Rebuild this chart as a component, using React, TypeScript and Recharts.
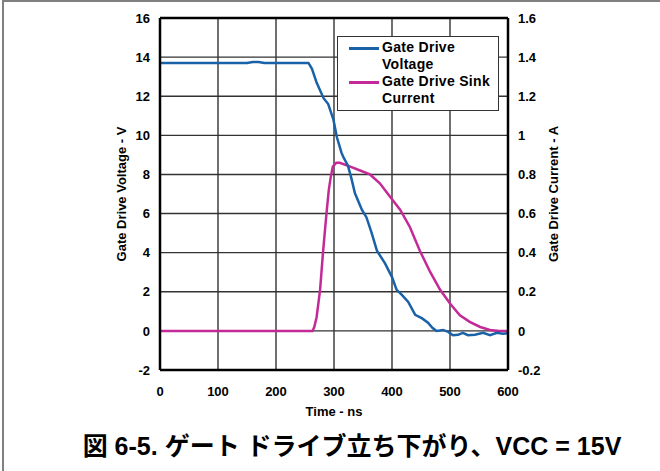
import {
  LineChart, Line, XAxis, YAxis, CartesianGrid,
  Legend, ReferenceLine, Label,
} from 'recharts';

// Gate drive voltage trace (ns, V)
const voltageTime = [
  0, 150, 160, 170, 180, 256, 262, 270, 282, 290, 299, 305, 313, 316, 324, 330, 336,
  348, 356, 365, 374, 388, 400, 408, 417, 428, 440, 452, 462, 470, 477, 488, 497,
  505, 514, 522, 531, 543, 557, 569, 581, 591, 600,
];
const voltageValue = [
  13.7, 13.7, 13.75, 13.75, 13.7, 13.7, 13.4, 12.7, 11.9, 11.6, 10.8, 9.9, 9.1, 8.9, 8.45, 7.8, 7.05,
  6.2, 5.8, 5.0, 4.1, 3.45, 2.75, 2.1, 1.84, 1.48, 0.82, 0.64, 0.42, 0.15, 0.0, 0.05, -0.05,
  -0.22, -0.2, -0.1, -0.22, -0.2, -0.1, -0.22, -0.1, -0.15, -0.12,
];

// Gate drive sink current trace (ns, A)
const currentTime = [
  0, 263, 266, 270, 276, 281, 287, 291, 294, 298, 304, 310, 328, 345, 362, 379,
  397, 414, 431, 448, 466, 483, 500, 517, 534, 552, 569, 585, 600,
];
const currentValue = [
  0, 0, 0.02, 0.07, 0.21, 0.4, 0.6, 0.72, 0.78, 0.84, 0.86, 0.86, 0.84, 0.82, 0.8, 0.755,
  0.685, 0.62, 0.53, 0.41, 0.3, 0.21, 0.14, 0.08, 0.046, 0.02, 0.005, 0, 0,
];

const timeTicks = [0, 100, 200, 300, 400, 500, 600];
const voltageTicks = [-2, 0, 2, 4, 6, 8, 10, 12, 14, 16];
const currentTicks = [-0.2, 0, 0.2, 0.4, 0.6, 0.8, 1, 1.2, 1.4, 1.6];

const legendItems = [
  { key: 'v', lines: ['Gate Drive', 'Voltage'], color: '#1a62a8' },
  { key: 'i', lines: ['Gate Drive Sink', 'Current'], color: '#c42a97' },
];

const FONT = '"Liberation Sans", Arial, Helvetica, sans-serif';
const BLUE = '#1a62a8';
const MAGENTA = '#c42a97';

const voltageData = voltageTime.map((t, i) => ({ t, v: voltageValue[i] }));
const currentData = currentTime.map((t, i) => ({ t, a: currentValue[i] }));

const tickStyle = { fill: '#000', fontSize: 13, fontWeight: 700, fontFamily: FONT };

function LegendBox() {
  return (
    <div
      style={{
        width: 160, height: 73, background: '#fff', border: '1px solid #333',
        fontFamily: FONT, fontWeight: 700, fontSize: 14, letterSpacing: 0.3,
        color: '#000', position: 'relative',
      }}
    >
      {legendItems.map((item, i) => (
        <div key={item.key} style={{ position: 'absolute', left: 0, top: 2 + i * 34 }}>
          <span
            style={{
              position: 'absolute', left: 11, top: 8, width: 30, height: 2.5,
              background: item.color,
            }}
          />
          <div style={{ position: 'absolute', left: 44, top: 0, lineHeight: '17px', whiteSpace: 'nowrap' }}>
            {item.lines[0]}<br />{item.lines[1]}
          </div>
        </div>
      ))}
    </div>
  );
}

function VerticalTitle({ viewBox, text, dx }: { viewBox?: any; text: string; dx: number }) {
  const x = (viewBox?.x ?? 0) + dx;
  const y = (viewBox?.y ?? 18) + (viewBox?.height ?? 352) / 2;
  return (
    <text
      x={x} y={y}
      transform={`rotate(-90 ${x} ${y})`}
      textAnchor="middle"
      dominantBaseline="central"
      fontFamily={FONT} fontSize={13} fontWeight={700} fill="#000"
    >
      {text}
    </text>
  );
}

export default function App() {
  return (
    <div style={{ position: 'absolute', left: 0, top: 0, width: 660, height: 471, background: '#fff' }}>
      <div
        style={{
          position: 'absolute', left: 2, top: 0, width: 658, height: 471,
          borderTop: '2px solid #808080', borderLeft: '2px solid #808080',
          boxSizing: 'border-box',
        }}
      />
      <LineChart
        width={660}
        height={471}
        margin={{ top: 18, right: 0, bottom: 0, left: 0 }}
        style={{ position: 'absolute', left: 0, top: 0 }}
      >
        <CartesianGrid
          yAxisId="v"
          stroke="#333"
          strokeWidth={1.4}
          horizontalValues={voltageTicks}
          verticalValues={timeTicks}
        />
        <XAxis
          dataKey="t"
          type="number"
          domain={[0, 600]}
          ticks={timeTicks}
          height={101}
          axisLine={{ stroke: '#000', strokeWidth: 2.5 }}
          tickLine={false}
          tickSize={6}
          tickMargin={11}
          tick={tickStyle}
          allowDataOverflow
        >
          <Label
            content={(p: any) => (
              <text
                x={(p.viewBox?.x ?? 160) + (p.viewBox?.width ?? 348) / 2}
                y={416}
                textAnchor="middle"
                fontFamily={FONT} fontSize={13} fontWeight={700} fill="#000"
              >
                Time - ns
              </text>
            )}
          />
        </XAxis>
        <YAxis
          yAxisId="v"
          orientation="left"
          width={160}
          domain={[-2, 16]}
          ticks={voltageTicks}
          axisLine={{ stroke: '#000', strokeWidth: 2.5 }}
          tickLine={false}
          tickSize={6}
          tickMargin={4}
          tick={tickStyle}
          allowDataOverflow
        >
          <Label content={(p: any) => <VerticalTitle viewBox={p.viewBox} text="Gate Drive Voltage - V" dx={121} />} />
        </YAxis>
        <YAxis
          yAxisId="a"
          orientation="right"
          width={152}
          domain={[-0.2, 1.6]}
          ticks={currentTicks}
          axisLine={{ stroke: '#000', strokeWidth: 2.5 }}
          tickLine={false}
          tickSize={6}
          tickMargin={4}
          tick={tickStyle}
          tickFormatter={(v: number) => String(Number(v.toFixed(1)))}
          allowDataOverflow
        >
          <Label content={(p: any) => <VerticalTitle viewBox={p.viewBox} text="Gate Drive Current - A" dx={45} />} />
        </YAxis>
        <ReferenceLine yAxisId="v" y={16} stroke="#000" strokeWidth={2.5} />
        <Legend
          layout="vertical"
          align="center"
          verticalAlign="middle"
          content={() => <LegendBox />}
          wrapperStyle={{ position: 'absolute', left: 337, top: 36, width: 162, height: 75 }}
        />
        <Line
          yAxisId="a"
          data={currentData}
          dataKey="a"
          type="linear"
          stroke={MAGENTA}
          strokeWidth={2.5}
          dot={false}
          activeDot={false}
          isAnimationActive={false}
        />
        <Line
          yAxisId="v"
          data={voltageData}
          dataKey="v"
          type="linear"
          stroke={BLUE}
          strokeWidth={2.5}
          dot={false}
          activeDot={false}
          isAnimationActive={false}
        />
      </LineChart>
      <div
        style={{
          position: 'absolute', left: 22, top: 431, width: 660, textAlign: 'center',
          fontFamily: '"Liberation Sans", Arial, "Noto Sans CJK JP", sans-serif',
          fontWeight: 700, fontSize: 25, lineHeight: '30px', whiteSpace: 'nowrap', color: '#000',
        }}
      >
        図 6-5. ゲート ドライブ立ち下がり、VCC = 15V
      </div>
    </div>
  );
}
